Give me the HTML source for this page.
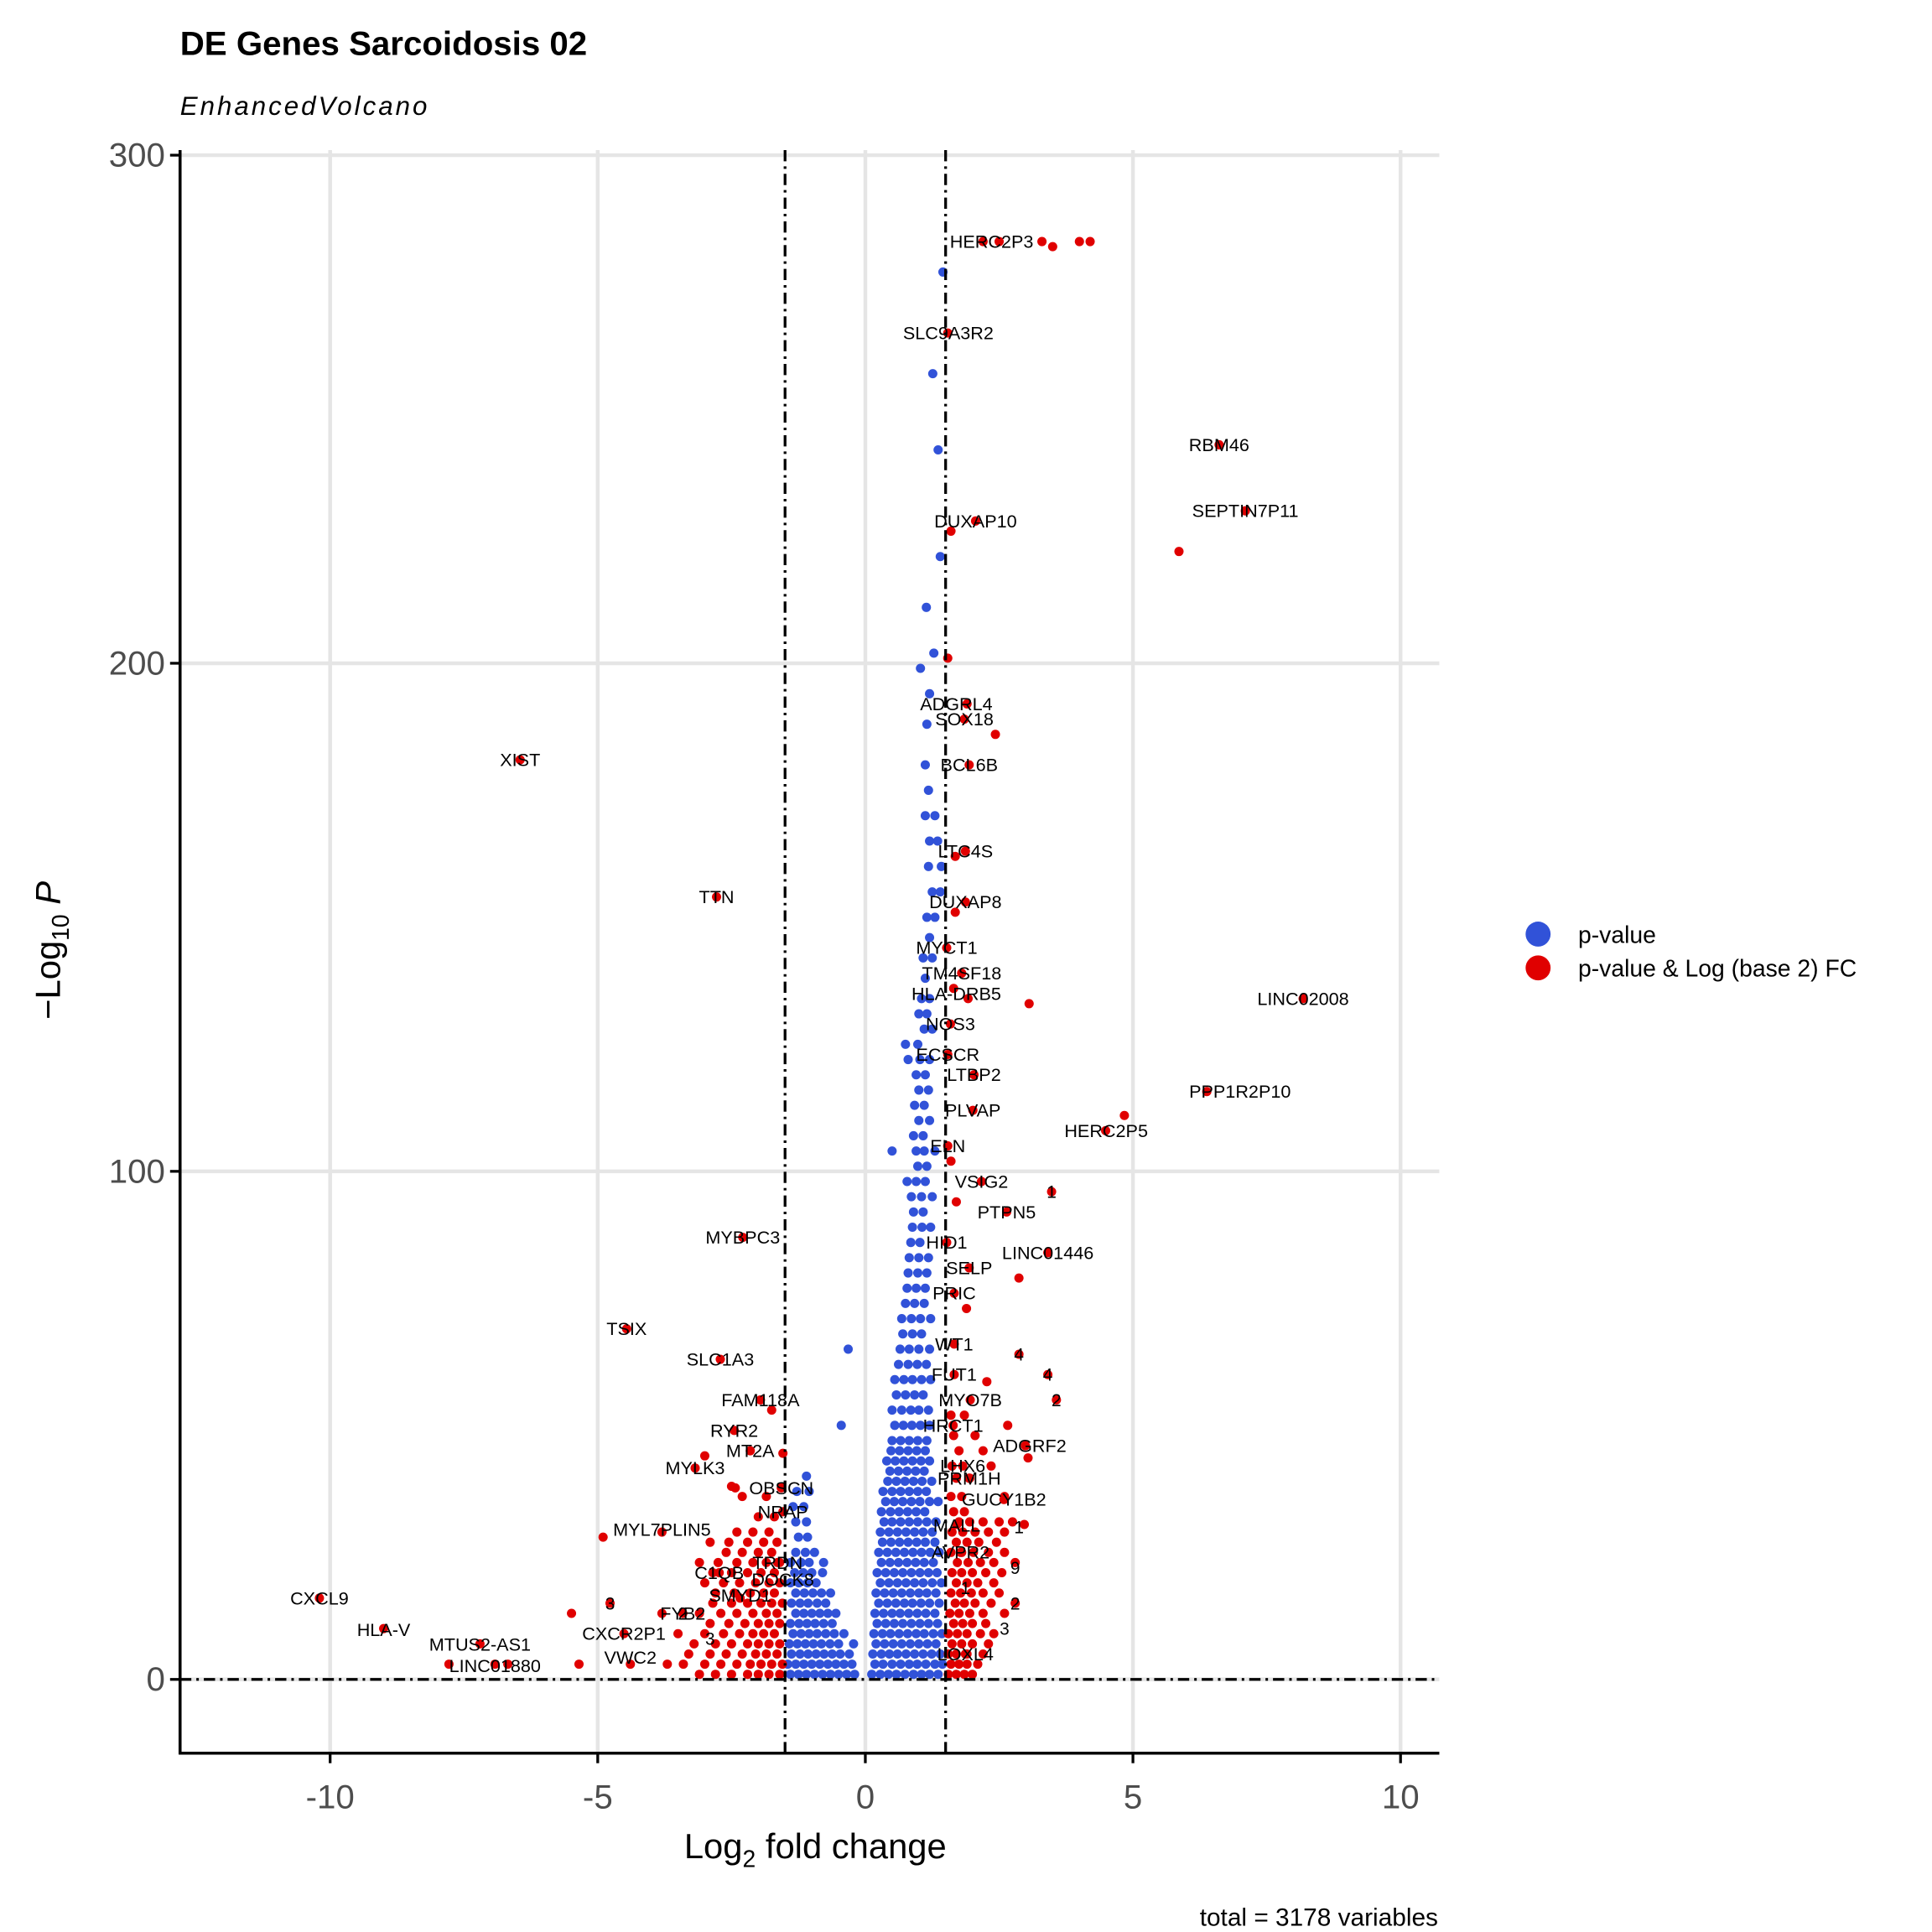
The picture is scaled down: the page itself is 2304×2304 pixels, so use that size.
<!DOCTYPE html>
<html><head><meta charset="utf-8"><style>
html,body{margin:0;padding:0;background:#fff}
svg{display:block}
text{font-family:"Liberation Sans",Arial,sans-serif}
</style></head><body>
<svg id="chart" width="2304" height="2304" viewBox="0 0 1545 1545" xmlns="http://www.w3.org/2000/svg">
<rect width="1545" height="1545" fill="#fff"/>
<text x="144" y="44" font-size="27" font-weight="bold">DE Genes Sarcoidosis 02</text>
<text x="144" y="92" font-size="21" font-style="italic" letter-spacing="2">EnhancedVolcano</text>
<g id="grid"></g>
<g id="pts"></g>
<g id="labs"></g>
<g id="axes"></g>
<text x="652" y="1486" font-size="28" text-anchor="middle">Log<tspan font-size="19" dy="7">2</tspan><tspan dy="-7"> fold change</tspan></text>
<text transform="translate(48,760) rotate(-90)" font-size="28" text-anchor="middle">−Log<tspan font-size="19" dy="7">10</tspan><tspan dy="-7" font-style="italic"> P</tspan></text>
<g>
<circle cx="1230" cy="747" r="10" fill="#3152d8"/>
<text x="1262" y="754" font-size="19">p-value</text>
<circle cx="1230" cy="774" r="10" fill="#e00000"/>
<text x="1262" y="781" font-size="19">p-value &amp; Log (base 2) FC</text>
</g>
<text x="1150" y="1540" font-size="20" text-anchor="end">total = 3178 variables</text>
</svg>
<script>
const xTicks=[-10,-5,0,5,10];
const yTicks=[0,100,200,300];
const blueRows=[
[1,[0.12,0.28,0.43,0.58,0.74,0.9,1.05,1.2,1.36,-1.4,-1.25,-1.1,-0.95,-0.8,-0.65,-0.5,-0.35,-0.2]],
[3,[0.18,0.33,0.5,0.66,0.82,0.97,1.13,1.3,1.44,-1.45,-1.3,-1.15,-1.0,-0.85,-0.7,-0.55,-0.4,-0.25]],
[5,[0.14,0.3,0.45,0.6,0.76,0.92,1.08,1.24,1.4,-1.38,-1.22,-1.07,-0.92,-0.77,-0.62,-0.47,-0.3]],
[7,[0.2,0.36,0.52,0.68,0.84,1.0,1.16,1.32,-1.42,-1.27,-1.12,-0.97,-0.82,-0.66,-0.5,-0.22]],
[9,[0.16,0.32,0.47,0.63,0.79,0.95,1.1,1.27,1.43,-1.35,-1.2,-1.05,-0.9,-0.74,-0.58,-0.4]],
[11,[0.22,0.38,0.54,0.7,0.86,1.02,1.18,1.35,-1.4,-1.24,-1.09,-0.94,-0.78,-0.62]],
[13,[0.18,0.34,0.5,0.65,0.81,0.97,1.13,1.3,-1.3,-1.15,-1.0,-0.85,-0.7,-0.55]],
[15,[0.25,0.41,0.57,0.73,0.88,1.04,1.2,1.38,-1.38,-1.22,-1.07,-0.9,-0.74]],
[17,[0.2,0.36,0.52,0.68,0.84,1.0,1.15,1.32,-1.3,-1.14,-0.98,-0.82,-0.65]],
[19,[0.28,0.44,0.6,0.76,0.92,1.08,1.25,1.42,-1.4,-1.24,-1.08,-0.92]],
[21,[0.22,0.38,0.54,0.7,0.86,1.02,1.18,1.34,-1.32,-1.16,-1.0,-0.8]],
[23,[0.3,0.46,0.62,0.78,0.94,1.1,1.27,-1.4,-1.2,-1.05,-0.78]],
[25,[0.25,0.41,0.57,0.73,0.89,1.05,1.21,1.38,-1.3,-1.12,-0.95]],
[27,[0.32,0.48,0.64,0.8,0.96,1.12,1.3]],[28,[-1.25,-1.08]],
[29,[0.28,0.44,0.6,0.76,0.92,1.08,1.25]],
[31,[0.35,0.5,0.66,0.82,0.98,1.15,1.32,-1.3,-1.1]],
[33,[0.3,0.47,0.63,0.79,0.95,1.11]],[34,[-1.35,-1.15]],
[35,[0.38,0.54,0.7,0.86,1.02,1.2,1.36]],
[37,[0.33,0.5,0.66,0.82,0.98,1.14,-1.28,-1.05]],
[39,[0.42,0.58,0.74,0.9,1.06,1.24]],[40,[-1.1]],
[41,[0.46,0.62,0.78,0.94,1.1]],[43,[0.4,0.56,0.72,0.88,1.04,1.2]],
[45,[0.48,0.64,0.8,0.96,1.12]],[47,[0.5,0.66,0.82,0.98,1.15]],
[50,[0.55,0.71,0.87,1.03,1.2,-0.45]],[53,[0.5,0.68,0.85,1.0,1.18]],
[56,[0.58,0.75,0.92,1.08]],[59,[0.55,0.72,0.88,1.05,1.22]],
[62,[0.62,0.8,0.97,1.14]],[65,[0.65,0.82,1.0,1.2,-0.32]],
[68,[0.7,0.88,1.05]],[71,[0.68,0.86,1.03,1.22]],[74,[0.75,0.92,1.1]],
[77,[0.78,0.95,1.12]],[80,[0.8,0.98,1.15]],[83,[0.82,1.0,1.18]],
[86,[0.85,1.02]],[89,[0.88,1.06,1.22]],[92,[0.9,1.08]],[95,[0.86,1.05,1.25]],
[98,[0.78,0.95,1.12]],[101,[0.98,1.15]],[104,[0.5,0.95,1.1,1.3]],
[107,[0.9,1.08]],[110,[1.0,1.2]],[113,[0.92,1.1]],[116,[1.0,1.18]],
[119,[0.95,1.12]],[122,[0.8,1.02,1.2]],[125,[0.75,0.98]],[128,[1.1,1.25]],
[131,[1.0,1.15]],[134,[1.05,1.2]],[138,[1.12]],[142,[1.08,1.25]],[146,[1.2]],
[150,[1.15,1.3]],[155,[1.25,1.4]],[160,[1.18,1.42]],[165,[1.2,1.35]],
[170,[1.12,1.3]],[175,[1.18]],[180,[1.12]],[188,[1.15]],[194,[1.2]],
[199,[1.03]],[202,[1.28]],[211,[1.14]],[221,[1.4]],[242,[1.36]],[257,[1.26]],[277,[1.45]]
];
const redRows=[
[1,[1.55,1.7,1.85,2.0,-1.6,-1.8,-2.0,-2.2,-2.5,-2.8,-3.1]],
[3,[1.6,1.75,1.9,2.1,-1.55,-1.75,-1.95,-2.15,-2.4,-2.7,-3.0,-3.4,-3.7,-5.35,-7.78,-6.92,-6.68,-4.39]],
[5,[1.55,1.7,1.9,2.2,1.87,-1.65,-1.85,-2.05,-2.3,-2.6,-2.9,-3.3]],
[7,[1.62,1.8,2.0,2.3,-1.6,-1.8,-2.0,-2.2,-2.5,-2.8,-3.2,-7.2]],
[9,[1.55,1.72,1.9,2.15,2.4,-1.7,-1.9,-2.1,-2.35,-2.65,-3.0,-3.5,-4.51]],
[10,[-9.0]],
[11,[1.65,1.82,2.0,2.25,-1.6,-1.8,-2.0,-2.25,-2.55,-2.9]],
[13,[1.58,1.75,1.95,2.2,2.6,-1.65,-1.85,-2.1,-2.4,-2.7,-3.1,-3.8,-5.49,-3.41]],
[15,[1.68,1.85,2.05,2.35,2.8,-1.55,-1.75,-1.95,-2.2,-2.5,-2.85,-4.77]],
[16,[-10.2,-2.34]],
[17,[1.6,1.78,1.98,2.2,2.5,-1.7,-1.9,-2.15,-2.45,-2.8]],
[19,[1.7,1.9,2.1,2.4,-1.6,-1.8,-2.05,-2.35,-2.65,-3.0]],
[21,[1.62,1.8,2.0,2.25,2.55,-1.7,-1.95,-2.2,-2.5,-2.85,-2.73]],
[23,[1.72,1.92,2.15,2.4,2.8,-1.6,-1.85,-2.1,-2.4,-2.75,-3.1,-1.64]],
[25,[1.6,1.8,2.02,2.3,2.6,1.78,-1.75,-2.0,-2.3,-2.6]],
[27,[1.7,1.9,2.12,2.45,-1.65,-1.9,-2.2,-2.55,-2.9]],
[28,[-4.9]],
[29,[1.62,1.82,2.05,2.3,2.6,-1.8,-2.1,-2.4,-3.8]],
[30.5,[1.71,2.97]],
[31,[1.75,1.95,2.2,2.5,2.75]],
[32,[-1.7,-2.0]],[33,[1.65,1.85,-1.54]],[35.4,[2.59]],
[36,[1.6,1.8,2.6,-1.85,-2.3]],[37.7,[-1.57,-2.43]],[38,[-2.5]],
[39.6,[1.7,1.95,1.94]],[41.6,[-3.18]],[42,[1.62,2.35,1.82]],[43.6,[3.04]],
[44,[-3.0]],[44.5,[-1.54]],[45,[1.75,2.2,-2.15]],[46,[2.99]],
[48,[1.65,2.05]],[49,[-2.45]],[50,[1.64,2.66]],[52,[1.6,1.85]],
[53,[-1.75]],[55,[1.96,3.57,-1.96]],[58.6,[2.27]],[60,[1.66,3.41]],
[63,[-2.71]],[64,[2.87]],[66,[1.66]],[69,[-4.46]],[73,[1.89]],[76,[1.66]],
[79,[2.87]],[81,[1.94]],[84,[3.41]],[86,[1.52]],[87,[-2.29]],[92,[2.64]],
[94,[1.7]],[96,[3.48]],[98,[2.17]],[102,[1.6]],[105,[1.54]],[108,[4.49]],
[111,[4.84]],[112,[2.01]],[115.7,[6.38]],[119,[2.03]],[123,[1.54]],[129,[1.59]],
[133,[3.06]],[134,[1.92,8.18]],[136,[1.65]],[139,[1.8]],[144,[1.52]],
[151,[1.68]],[153,[1.87]],[154,[-2.78]],[162,[1.68]],[163,[1.87]],
[180,[1.94]],[181,[-6.45]],[186,[2.43]],[189,[1.85]],[192,[1.9]],
[201,[1.54]],[222,[5.86]],[226,[1.6]],[228,[2.06]],[230,[7.1]],[243,[6.61]],
[265,[1.54]],[282,[3.5]],[283,[2.2,2.5,3.3,4.0,4.2]]
];
const labelNames=["HERC2P3","SLC9A3R2","RBM46","SEPTIN7P11","DUXAP10","ADGRL4","SOX18","XIST","BCL6B","LTC4S","TTN","DUXAP8","MYCT1","TM4SF18","HLA-DRB5","LINC02008","NOS3","ECSCR","LTBP2","PPP1R2P10","PLVAP","HERC2P5","ELN","VSIG2","PTPN5","HID1","MYBPC3","LINC01446","SELP","PRIC","TSIX","WT1","SLC1A3","FUT1","MYO7B","FAM118A","HRCT1","RYR2","ADGRF2","MT2A","LHX6","MYLK3","PRM1H","OBSCN","GUCY1B2","NRAP","MALL","MYL7PLIN5","AVPR2","TRDN","C1QB","DOCK8","SMYD1","CXCL9","FYB2","HLA-V","CXCR2P1","MTUS2-AS1","VWC2","LINC01880","LOXL4"];
const labelX=[2.36,1.55,6.61,7.1,2.06,1.7,1.85,-6.45,1.94,1.87,-2.78,1.87,1.52,1.8,1.7,8.18,1.59,1.54,2.03,7.0,2.01,4.5,1.54,2.17,2.64,1.52,-2.29,3.41,1.94,1.66,-4.46,1.66,-2.71,1.66,1.96,-1.96,1.64,-2.45,3.07,-2.15,1.82,-3.18,1.94,-1.57,2.59,-1.54,1.71,-3.8,1.78,-1.64,-2.73,-1.54,-2.34,-10.2,-3.41,-9.0,-4.51,-7.2,-4.39,-6.92,1.87];
const labelY=[283,265,243,230,228,192,189,181,180,163,154,153,144,139,135,134,129,123,119,115.7,112,108,105,98,92,86,87,84,81,76,69,66,63,60,55,55,50,49,46,45,42,41.6,39.6,37.7,35.4,33,30.3,29.5,25,23,21,19.7,16.5,16,13,9.8,9,6.9,4.3,2.7,5];
const smallX=[-4.77,-3.41,-2.9,1.87,2.87,3.41,3.57,2.87,2.6,2.8,2.8,3.48];
const smallY=[15,13,8,18,64,60,55,30,10,22,15,96];
const smallT=["3","2","3","1","4","4","2","1","3","9","2","1"];

const NS="http://www.w3.org/2000/svg";
const X=v=>692+v*42.8, Y=v=>1343-v*4.063;
const L=144,R=1151,T=120,B=1402;
function mk(tag,attrs,parent){const e=document.createElementNS(NS,tag);for(const k in attrs)e.setAttribute(k,attrs[k]);parent.appendChild(e);return e;}
const grid=document.getElementById('grid'),pts=document.getElementById('pts'),labs=document.getElementById('labs'),axes=document.getElementById('axes');
xTicks.forEach(t=>{const e=mk('line',{x1:X(t),x2:X(t),y1:T,y2:B,stroke:'#e5e5e5','stroke-width':3},grid);

});
yTicks.forEach(t=>{const e=mk('line',{x1:L,x2:R,y1:Y(t),y2:Y(t),stroke:'#e5e5e5','stroke-width':3},grid);

});
function drawRows(rows,color,name){rows.forEach(r=>r[1].forEach(x=>{const c=mk('circle',{cx:X(x),cy:Y(r[0]),r:3.7,fill:color},pts);

}));}
drawRows(blueRows,'#3152d8','pvalue-point');
drawRows(redRows,'#e00000','pvalue-fc-point');
// threshold lines
[-1.5,1.5].forEach(v=>{const e=mk('line',{x1:X(v),x2:X(v),y1:T,y2:B,stroke:'#000','stroke-width':2.2,'stroke-dasharray':'9 4 2 4'},axes);

});
{const e=mk('line',{x1:L,x2:R,y1:Y(0),y2:Y(0),stroke:'#000','stroke-width':2.2,'stroke-dasharray':'9 4 2 4'},axes);

}
labelNames.forEach((n,i)=>{const e=mk('text',{x:X(labelX[i]),y:Y(labelY[i])+5,'font-size':14.5,'text-anchor':'middle'},labs);e.textContent=n;

});
smallT.forEach((n,i)=>{const e=mk('text',{x:X(smallX[i]),y:Y(smallY[i])+5,'font-size':14,'text-anchor':'middle'},labs);e.textContent=n;

});
{const e=mk('line',{x1:L,x2:L,y1:T,y2:B+1,stroke:'#000','stroke-width':2.4},axes);

}
{const e=mk('line',{x1:L-1,x2:R,y1:B,y2:B,stroke:'#000','stroke-width':2.4},axes);

}
xTicks.forEach(t=>{mk('line',{x1:X(t),x2:X(t),y1:B,y2:B+8,stroke:'#000','stroke-width':2.2},axes);
const e=mk('text',{x:X(t),y:1446,'font-size':27,'text-anchor':'middle',fill:'#4d4d4d'},axes);e.textContent=t;

});
yTicks.forEach(t=>{mk('line',{x1:L-8,x2:L,y1:Y(t),y2:Y(t),stroke:'#000','stroke-width':2.2},axes);
const e=mk('text',{x:L-12,y:Y(t)+9,'font-size':27,'text-anchor':'end',fill:'#4d4d4d'},axes);e.textContent=t;

});
</script>
</body></html>
